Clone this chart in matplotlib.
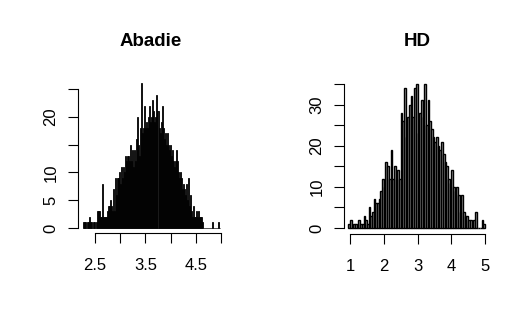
import numpy as np
import matplotlib
matplotlib.use("Agg")
import matplotlib.pyplot as plt

plt.rcParams['font.family'] = ['Liberation Sans', 'DejaVu Sans']

# Abadie: counts per bin, bins of width 0.02 starting at 2.26
abadie_start = 2.26
abadie_width = 0.02
abadie_counts = [
    1, 1, 1, 0, 1, 1, 2, 1, 1, 0, 1, 1, 0, 1,
    3, 3, 3, 2, 2,
    8,
    2, 2, 2, 2, 3,
    4, 4, 5, 4, 3,
    7, 3,
    9, 6, 9,
    9, 10, 8, 11, 9, 11,
    10, 13, 12, 13,
    13, 12, 15,
    12, 14, 11,
    14, 12, 16,
    20, 15, 13, 18, 26,
    17, 18, 22, 18, 19, 18, 20, 22, 19, 20,
    23, 21, 19, 20, 24, 21, 18, 17, 19, 22,
    18, 16, 17, 15, 17, 15, 14, 15, 13, 14,
    12, 11, 12, 14, 12, 10, 9, 10, 9, 7,
    8, 7, 6, 8, 5, 9, 4, 6, 3, 2,
    4, 2, 2, 3, 2, 3, 2, 2, 2, 1,
    0, 0, 0, 0, 0, 0, 0, 0, 0,
    1,
    0, 0, 0, 0, 0,
    1, 0,
]

# HD: counts per bin, bins of width 0.05 starting at 0.95
hd_start = 0.95
hd_width = 0.05
hd_counts = [
    1, 2, 0, 1, 1, 0, 2, 1, 1, 3,
    2, 1, 5, 3, 4, 7, 6, 6, 7, 9,
    12, 10, 16, 15, 12, 19, 12, 15, 12, 14,
    12, 28, 26, 34, 22, 27, 30, 32, 27, 34,
    35, 23, 28, 31, 27, 35, 25, 31, 26, 24,
    22, 21, 22, 20, 19, 21, 18, 16, 15, 12,
    11, 14, 10, 9, 10, 8, 4, 8, 4, 3,
    3, 2, 2, 0, 2, 4, 0, 0, 0, 2,
    1,
]

abadie_xticks = [2.5, 3.0, 3.5, 4.0, 4.5, 5.0]
abadie_xlabels = ["2.5", "", "3.5", "", "4.5", ""]
abadie_yticks = [0, 5, 10, 15, 20, 25]
abadie_ylabels = ["0", "5", "10", "", "20", ""]

hd_xticks = [1, 2, 3, 4, 5]
hd_xlabels = ["1", "2", "3", "4", "5"]
hd_yticks = [0, 5, 10, 15, 20, 25, 30, 35]
hd_ylabels = ["0", "", "10", "", "20", "", "30", ""]

W, H = 530, 332
fig = plt.figure(figsize=(W / 100, H / 100), dpi=100)


def px_axes(x0, y0, x1, y1):
    # pixel box (from top-left) -> figure axes
    return fig.add_axes([x0 / W, 1 - y1 / H, (x1 - x0) / W, (y1 - y0) / H])


def draw_hist(ax, start, width, counts, xticks, xlabels, yticks, ylabels, face, lw):
    edges = start + width * np.arange(len(counts))
    ax.bar(edges, counts, width=width, align='edge', facecolor=face,
           edgecolor='black', linewidth=lw)
    for s in ['top', 'right']:
        ax.spines[s].set_visible(False)
    ax.spines['left'].set_bounds(yticks[0], yticks[-1])
    ax.spines['bottom'].set_bounds(xticks[0], xticks[-1])
    ax.set_xticks(xticks)
    ax.set_xticklabels(xlabels)
    ax.set_yticks(yticks)
    ax.set_yticklabels(ylabels, rotation=90, va='center')
    ax.tick_params(length=7, width=0.8, labelsize=12)
    ax.tick_params(axis='x', pad=11)
    ax.tick_params(axis='y', pad=7)
    for s in ['left', 'bottom']:
        ax.spines[s].set_linewidth(0.8)


ax1 = px_axes(78, 80, 226, 233)
draw_hist(ax1, abadie_start, abadie_width, abadie_counts,
          abadie_xticks, abadie_xlabels, abadie_yticks, abadie_ylabels, '#1a1a1a', 0.6)
ax1.set_xlim(2.5 - 17 / 50.4, 5.0 + 5 / 50.4)
ax1.set_ylim(-5 / 5.56, 148 / 5.56)

ax2 = px_axes(344, 80, 490, 234)
draw_hist(ax2, hd_start, hd_width, hd_counts,
          hd_xticks, hd_xlabels, hd_yticks, hd_ylabels, '#9a9a9a', 1.0)
ax2.set_xlim(1 - 6 / 33.75, 5 + 5 / 33.75)
ax2.set_ylim(-6 / 4.114, 148 / 4.114)

fig.text(151 / W, 1 - 41 / H, "Abadie", ha='center', va='center',
         fontsize=13.5, fontweight='bold')
fig.text(417 / W, 1 - 41 / H, "HD", ha='center', va='center',
         fontsize=13.5, fontweight='bold')

fig.savefig("out.png", dpi=100)
